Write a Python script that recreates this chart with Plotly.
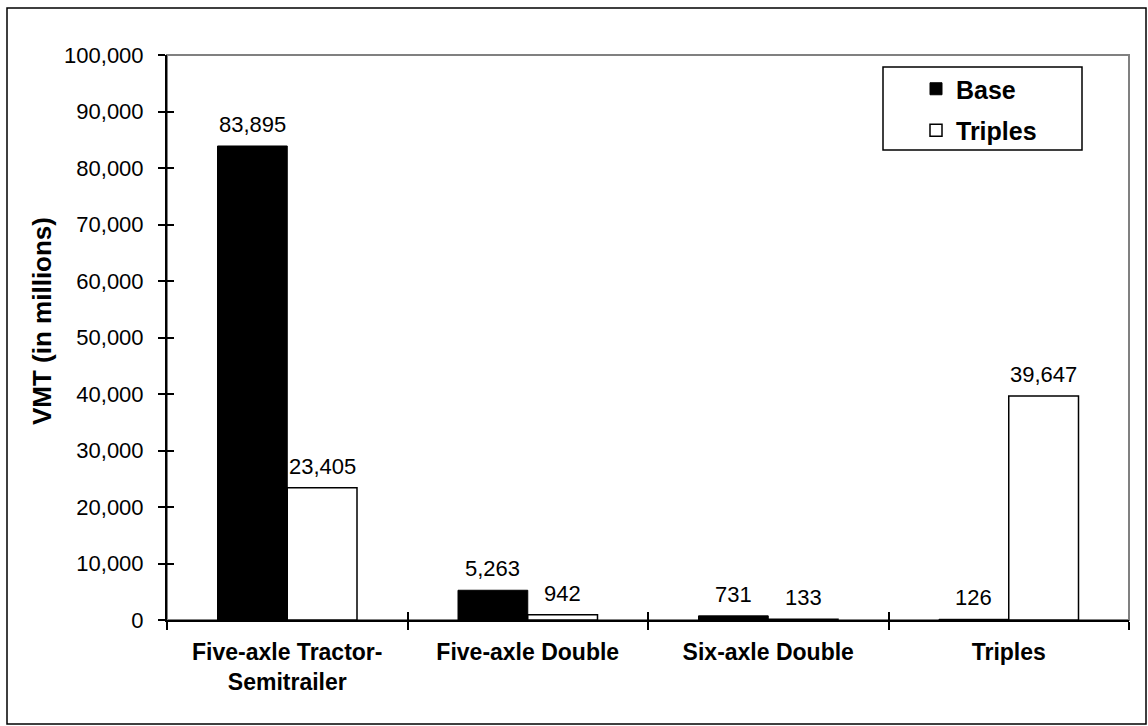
import plotly.graph_objects as go

categories = ["Five-axle Tractor-<br>Semitrailer", "Five-axle Double", "Six-axle Double", "Triples"]
base_vmt = [83895, 5263, 731, 126]
triples_vmt = [23405, 942, 133, 39647]
series_names = ["Base", "Triples"]
y_ticks = [0, 10000, 20000, 30000, 40000, 50000, 60000, 70000, 80000, 90000, 100000]

FONT = "Liberation Sans, Arial, sans-serif"

# plot area in pixels
W, H = 1148, 726
L, R, T, B = 167, 1129, 55, 620
PW, PH = R - L, B - T


def px_x(p):
    return (p - L) / PW


def px_y(p):
    return (B - p) / PH


fig = go.Figure()
fig.add_trace(go.Bar(
    x=categories, y=base_vmt, name=series_names[0],
    marker=dict(color="black", line=dict(color="black", width=1)),
    legendgroup="a",
))
fig.add_trace(go.Bar(
    x=categories, y=triples_vmt, name=series_names[1],
    marker=dict(color="white", line=dict(color="black", width=1.5)),
    legendgroup="b",
))
# empty trace so the overlay axes (inner half of the crossing ticks) are drawn
fig.add_trace(go.Scatter(
    x=[None], y=[None], xaxis="x2", yaxis="y2", mode="markers",
    showlegend=False, hoverinfo="skip",
))

bargap = 0.42
cat_w = PW / len(categories)
bar_w = cat_w * (1 - bargap) / 2

annotations = []
for vals, sign in ((base_vmt, -1), (triples_vmt, 1)):
    for c, v in zip(categories, vals):
        annotations.append(dict(
            x=c, y=v, xref="x", yref="y", text=f"{v:,}", showarrow=False,
            xanchor="center", yanchor="bottom", xshift=sign * bar_w / 2, yshift=7,
            font=dict(family=FONT, size=22, color="black"),
        ))

annotations.append(dict(
    x=px_x(42), y=px_y(321), xref="paper", yref="paper",
    text="<b>VMT (in millions)</b>", textangle=-90, showarrow=False,
    xanchor="center", yanchor="middle",
    font=dict(family=FONT, size=26, color="black"),
))

shapes = [
    # plot area frame (gray top/right)
    dict(type="rect", xref="paper", yref="paper", x0=0, x1=1, y0=0, y1=1,
         line=dict(color="#808080", width=2), layer="below"),
    # legend box
    dict(type="rect", xref="paper", yref="paper",
         x0=px_x(883), x1=px_x(1082), y0=px_y(150), y1=px_y(67),
         line=dict(color="black", width=1.5), fillcolor="rgba(0,0,0,0)"),
    # outer chart border
    dict(type="rect", xref="paper", yref="paper",
         x0=px_x(7), x1=px_x(1146), y0=px_y(724), y1=px_y(8),
         line=dict(color="black", width=1.5), fillcolor="rgba(0,0,0,0)"),
]

fig.update_layout(
    width=W, height=H,
    margin=dict(l=L, r=W - R, t=T, b=H - B),
    paper_bgcolor="white", plot_bgcolor="white",
    barmode="group", bargap=bargap, bargroupgap=0,
    font=dict(family=FONT, color="black"),
    showlegend=True,
    legend=dict(
        x=px_x(916), y=px_y(66), xanchor="left", yanchor="top",
        bgcolor="rgba(0,0,0,0)", borderwidth=0,
        font=dict(family=FONT, size=25, color="black", weight="bold"),
        traceorder="grouped", tracegroupgap=6,
    ),
    xaxis=dict(
        type="category", categoryarray=categories, categoryorder="array",
        range=[-0.5, 3.5],
        showline=True, linecolor="black", linewidth=2,
        ticks="outside", tickson="boundaries", ticklen=8, tickwidth=2, tickcolor="black",
        showgrid=False, zeroline=False,
        tickfont=dict(family=FONT, size=23, color="black", weight="bold"),
        ticklabelstandoff=10,
    ),
    xaxis2=dict(
        overlaying="x", anchor="y", side="bottom",
        range=[-0.5, 3.5], tickvals=[-0.5, 0.5, 1.5, 2.5, 3.5],
        ticks="inside", ticklen=8, tickwidth=2, tickcolor="black",
        showticklabels=False, showgrid=False, zeroline=False, showline=False,
    ),
    yaxis=dict(
        range=[0, 100000], tickvals=y_ticks, tickformat=",",
        showline=True, linecolor="black", linewidth=2,
        ticks="outside", ticklen=7, tickwidth=2, tickcolor="black",
        showgrid=False, zeroline=False,
        tickfont=dict(family=FONT, size=22, color="black"),
        ticklabelstandoff=10,
    ),
    yaxis2=dict(
        overlaying="y", anchor="x", side="left",
        range=[0, 100000], tickvals=y_ticks,
        ticks="inside", ticklen=7, tickwidth=2, tickcolor="black",
        showticklabels=False, showgrid=False, zeroline=False, showline=False,
    ),
    annotations=annotations,
    shapes=shapes,
)

fig.write_html("out.html")
